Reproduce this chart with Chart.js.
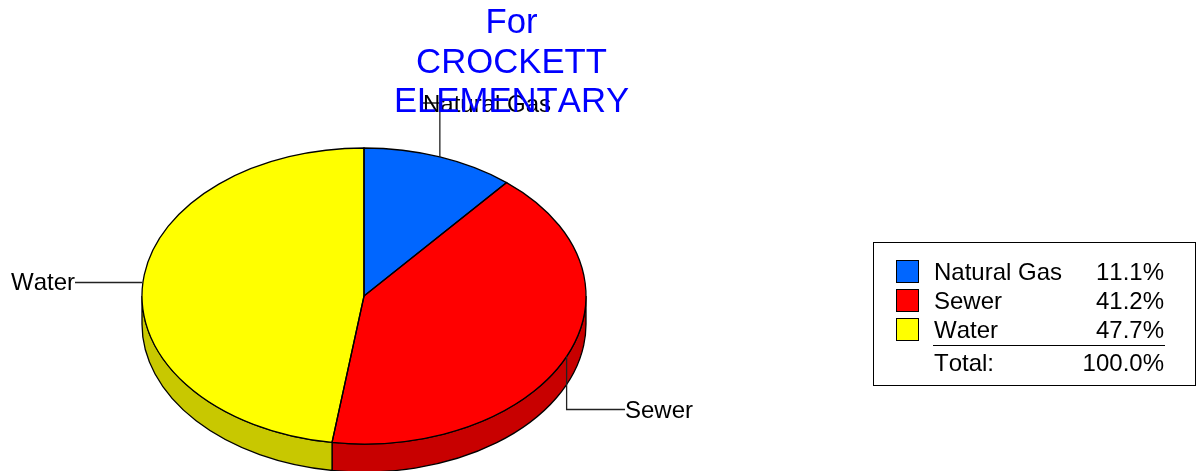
<!DOCTYPE html>
<html>
<head>
<meta charset="utf-8">
<title>CROCKETT ELEMENTARY</title>
<style>
    html, body { margin: 0; padding: 0; background: #fff; }
    canvas { display: block; }
</style>
<script src="https://cdn.jsdelivr.net/npm/chart.js@4/dist/chart.umd.min.js"></script>
</head>
<body>
<canvas id="pie" width="1201" height="471"></canvas>
<script>
var titleLines = ['For', 'CROCKETT', 'ELEMENTARY'];
var categories = ['Natural Gas', 'Sewer', 'Water'];
var shares     = [11.1, 41.2, 47.7];
var topColors  = ['#0066FF', '#FF0000', '#FFFF00'];
var sideColors = ['#0052CC', '#C80000', '#C8C800'];

// Pie is a circle for Chart.js, squashed into a tilted disc when drawn.
var FONT    = '"Liberation Sans", Arial, sans-serif';
var TILT    = 2 / 3;
var DEPTH   = 28;
var CENTERY = 296;
var STROKE  = 1.3;

function disc(chart) {
    var arcs = chart.getDatasetMeta(0).data;
    return { arcs: arcs, cx: arcs[0].x, cy: arcs[0].y, rx: arcs[0].outerRadius, ry: arcs[0].outerRadius * TILT };
}

function text(ctx, str, x, y, font, color, align) {
    ctx.font = font;
    ctx.fontKerning = 'none';
    ctx.fillStyle = color;
    ctx.textAlign = align || 'left';
    ctx.textBaseline = 'alphabetic';
    ctx.fillText(str, x, y);
}

function line(ctx, pts) {
    ctx.beginPath();
    ctx.moveTo(pts[0][0], pts[0][1]);
    for (var i = 1; i < pts.length; i++) ctx.lineTo(pts[i][0], pts[i][1]);
    ctx.stroke();
}

// Side wall, only the front half of the disc shows it.
function drawWalls(ctx, d) {
    d.arcs.forEach(function (arc, i) {
        var a0 = Math.max(arc.startAngle, 0);
        var a1 = Math.min(arc.endAngle, Math.PI);
        if (a1 <= a0) return;
        ctx.beginPath();
        ctx.ellipse(d.cx, CENTERY, d.rx, d.ry, 0, a0, a1);
        ctx.ellipse(d.cx, CENTERY + DEPTH, d.rx, d.ry, 0, a1, a0, true);
        ctx.closePath();
        ctx.fillStyle = sideColors[i];
        ctx.fill();
        ctx.strokeStyle = '#000';
        ctx.lineWidth = STROKE;
        ctx.stroke();
    });
}

function drawOutlines(ctx, d) {
    ctx.strokeStyle = '#000';
    ctx.lineWidth = STROKE;
    d.arcs.forEach(function (arc) {
        ctx.beginPath();
        ctx.moveTo(d.cx, CENTERY);
        ctx.ellipse(d.cx, CENTERY, d.rx, d.ry, 0, arc.startAngle, arc.endAngle);
        ctx.closePath();
        ctx.stroke();
    });
}

// Leader lines start at the middle of each slice's rim.
function drawLabels(ctx, d) {
    var rim = d.arcs.map(function (arc) {
        var mid = (arc.startAngle + arc.endAngle) / 2;
        return [d.cx + d.rx * Math.cos(mid), CENTERY + d.ry * Math.sin(mid)];
    });
    ctx.strokeStyle = '#222';
    ctx.lineWidth = STROKE;
    var f = '24px ' + FONT;

    line(ctx, [rim[0], [rim[0][0], 103], [423, 103]]);
    text(ctx, categories[0], 423, 112, f, '#000');

    line(ctx, [rim[1], [rim[1][0], 409.5], [625, 409.5]]);
    text(ctx, categories[1], 625, 418, f, '#000');

    line(ctx, [[d.cx - d.rx, 282.5], [75, 282.5]]);
    text(ctx, categories[2], 11, 290, f, '#000');
}

function drawTitle(ctx) {
    var baselines = [33, 73, 112];
    titleLines.forEach(function (t, i) {
        text(ctx, t, 511.5, baselines[i], '34.7px ' + FONT, '#0000FF', 'center');
    });
}

function drawLegend(ctx) {
    var f = '24px ' + FONT;
    var rows = [280, 309, 338];
    ctx.lineWidth = 1;
    ctx.strokeStyle = '#000';
    ctx.strokeRect(873.5, 242.5, 322, 143);
    categories.forEach(function (c, i) {
        ctx.fillStyle = topColors[i];
        ctx.fillRect(896.5, rows[i] - 19.5, 22, 22);
        ctx.strokeRect(896.5, rows[i] - 19.5, 22, 22);
        text(ctx, c, 934, rows[i], f, '#000');
        text(ctx, shares[i].toFixed(1) + '%', 1164, rows[i], f, '#000', 'right');
    });
    line(ctx, [[933, 345.5], [1165, 345.5]]);
    var total = shares.reduce(function (a, b) { return a + b; }, 0);
    text(ctx, 'Total:', 934, 371, f, '#000');
    text(ctx, total.toFixed(1) + '%', 1164, 371, f, '#000', 'right');
}

var tiltPlugin = {
    id: 'tilt',
    beforeDatasetsDraw: function (chart) {
        var ctx = chart.ctx, d = disc(chart);
        drawWalls(ctx, d);
        ctx.save();
        ctx.translate(d.cx, CENTERY);
        ctx.scale(1, TILT);
        ctx.translate(-d.cx, -d.cy);
    },
    afterDatasetsDraw: function (chart) {
        var ctx = chart.ctx, d = disc(chart);
        ctx.restore();
        drawOutlines(ctx, d);
        drawLabels(ctx, d);
        drawTitle(ctx);
        drawLegend(ctx);
    }
};

new Chart(document.getElementById('pie'), {
    type: 'pie',
    data: {
        labels: categories,
        datasets: [{
            data:            shares,
            backgroundColor: topColors,
            borderWidth:     0,
            clip:            false
        }]
    },
    options: {
        responsive: false,
        animation:  false,
        layout: { padding: { left: 142, right: 615, top: 14, bottom: 13 } },
        plugins: {
            legend:  { display: false },
            title:   { display: false },
            tooltip: { enabled: false }
        }
    },
    plugins: [tiltPlugin]
});
</script>
</body>
</html>
